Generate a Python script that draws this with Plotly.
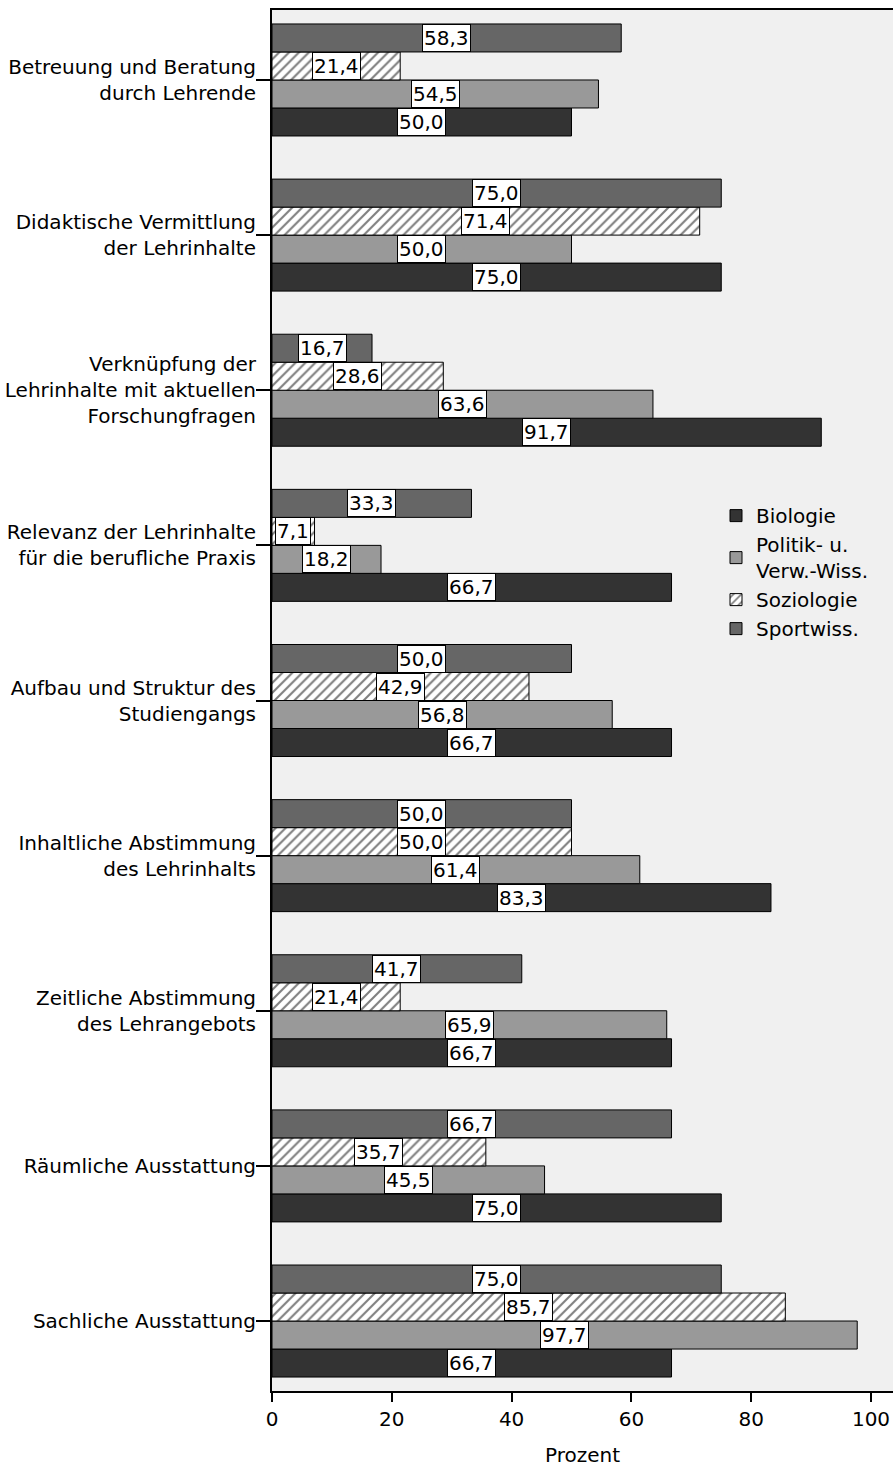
import plotly.graph_objects as go

categories = [
    "Betreuung und Beratung<br>durch Lehrende",
    "Didaktische Vermittlung<br>der Lehrinhalte",
    "Verknüpfung der<br>Lehrinhalte mit aktuellen<br>Forschungfragen",
    "Relevanz der Lehrinhalte<br>für die berufliche Praxis",
    "Aufbau und Struktur des<br>Studiengangs",
    "Inhaltliche Abstimmung<br>des Lehrinhalts",
    "Zeitliche Abstimmung<br>des Lehrangebots",
    "Räumliche Ausstattung",
    "Sachliche Ausstattung",
]
biologie = [50.0, 75.0, 91.7, 66.7, 66.7, 83.3, 66.7, 75.0, 66.7]
politik = [54.5, 50.0, 63.6, 18.2, 56.8, 61.4, 65.9, 45.5, 97.7]
soziologie = [21.4, 71.4, 28.6, 7.1, 42.9, 50.0, 21.4, 35.7, 85.7]
sportwiss = [58.3, 75.0, 16.7, 33.3, 50.0, 50.0, 41.7, 66.7, 75.0]
series_names = ["Biologie", "Politik- u.<br>Verw.-Wiss.", "Soziologie", "Sportwiss."]
x_ticks = [0, 20, 40, 60, 80, 100]

FONT = "DejaVu Sans"
FS = 20
W = 0.1805
positions = list(range(len(categories)))

series = [
    (series_names[0], biologie, dict(color="#333333"), W),
    (series_names[1], politik, dict(color="#999999"), 0.0),
    (series_names[2], soziologie, dict(color="white",
        pattern=dict(shape="/", fgcolor="black", bgcolor="white", size=7, solidity=0.3)), -W),
    (series_names[3], sportwiss, dict(color="#666666"), -2 * W),
]

fig = go.Figure()
annotations = []
for name, vals, mk, off in series:
    marker = dict(mk)
    marker["line"] = dict(color="black", width=1)
    fig.add_trace(go.Bar(
        x=vals, y=positions, orientation="h", name=name,
        width=W, offset=off, marker=marker,
    ))
    for p, v in zip(positions, vals):
        annotations.append(dict(
            x=v / 2, y=p + off + W / 2, xref="x", yref="y",
            text=f"{v:.1f}".replace(".", ","), showarrow=False,
            bgcolor="white", bordercolor="black", borderwidth=1, borderpad=1,
            font=dict(family=FONT, size=FS, color="black"),
        ))

fig.update_layout(
    width=893, height=1468,
    margin=dict(l=272, r=0, t=10, b=77),
    paper_bgcolor="white", plot_bgcolor="#f0f0f0",
    barmode="overlay",
    font=dict(family=FONT, size=FS, color="black"),
    showlegend=True,
    legend=dict(x=0.715, y=0.648, xanchor="left", yanchor="top",
                bgcolor="rgba(0,0,0,0)", font=dict(family=FONT, size=FS),
                traceorder="normal", tracegroupgap=0, itemwidth=30),
    annotations=annotations,
)
fig.update_xaxes(
    range=[0, 621 / 5.99], tickvals=x_ticks, ticktext=[str(t) for t in x_ticks],
    ticks="outside", ticklen=9, tickcolor="black", tickwidth=2,
    showline=True, linecolor="black", linewidth=2, mirror=True,
    showgrid=False, zeroline=False,
    title=dict(text="Prozent", standoff=18, font=dict(family=FONT, size=FS)),
)
fig.update_yaxes(
    range=[8.451, -0.451], tickvals=positions, ticktext=categories,
    ticks="outside", ticklen=14, tickcolor="black", tickwidth=2,
    showline=True, linecolor="black", linewidth=2,
    showgrid=False, zeroline=False, ticklabelstandoff=-4,
)

fig.write_html("out.html", config={"displayModeBar": False},
               post_script="document.body.style.margin='0';")
